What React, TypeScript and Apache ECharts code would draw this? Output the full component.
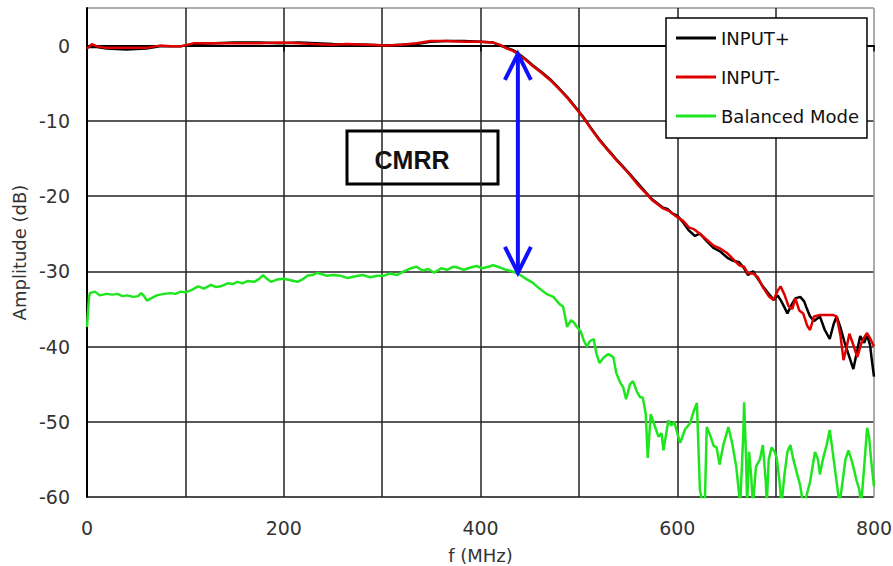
import React, { useEffect, useRef } from "react";
import * as echarts from "echarts";

// ---- data (f in MHz, amplitude in dB) ----
const blackF = [0, 10, 20, 40, 60, 74, 95, 108, 130, 150, 175, 196, 215, 250, 285, 305, 335, 349, 365, 383, 400, 413, 420, 427, 433, 438, 445, 453, 462, 471, 480, 488, 496, 504, 512, 521, 530, 540, 550, 560, 568, 575, 585, 590, 595, 600, 606, 612, 618, 623, 630, 637, 644, 651, 657, 663, 668, 672, 677, 682, 687, 693, 698, 702, 705, 709, 712, 716, 720, 725, 729, 731, 735, 739, 745, 750, 755, 759, 762, 766, 770, 774, 779, 783, 786, 790, 793, 796, 798, 800];
const blackDb = [-0.2, -0.2, -0.4, -0.5, -0.4, -0.1, -0.1, 0.2, 0.3, 0.4, 0.4, 0.3, 0.4, 0.2, 0.1, 0.0, 0.2, 0.5, 0.6, 0.6, 0.5, 0.4, 0.0, -0.3, -0.6, -1.0, -1.7, -2.6, -3.5, -4.5, -5.7, -6.8, -8.1, -9.4, -10.9, -12.5, -13.9, -15.4, -16.8, -18.3, -19.5, -20.5, -21.5, -21.7, -22.3, -22.6, -23.5, -24.6, -25.3, -25.0, -26.0, -26.9, -27.4, -28.2, -28.6, -28.8, -29.6, -30.5, -30.0, -31.0, -32.0, -33.0, -33.8, -33.2, -33.8, -34.8, -35.6, -34.5, -33.6, -33.4, -34.0, -34.7, -36.0, -36.6, -36.0, -37.8, -39.0, -37.0, -36.0, -37.5, -39.4, -41.0, -43.0, -40.5, -38.6, -39.5, -38.5, -39.8, -42.0, -44.0];

const redF = [0, 5, 10, 20, 40, 60, 74, 85, 95, 108, 130, 150, 175, 196, 215, 230, 250, 264, 285, 305, 320, 335, 349, 365, 383, 400, 413, 420, 427, 433, 438, 445, 453, 462, 471, 480, 488, 496, 504, 512, 521, 530, 540, 550, 560, 568, 575, 585, 592, 596, 600, 606, 612, 617, 623, 630, 637, 644, 651, 657, 663, 668, 672, 677, 682, 687, 693, 698, 702, 705, 709, 713, 717, 720, 724, 728, 732, 735, 739, 745, 752, 758, 762, 766, 769, 772, 775, 779, 783, 787, 790, 793, 796, 800];
const redDb = [-0.4, 0.2, -0.1, -0.3, -0.3, -0.3, 0.0, -0.1, -0.1, 0.3, 0.3, 0.3, 0.3, 0.4, 0.3, 0.2, 0.1, 0.2, 0.1, 0.0, 0.1, 0.3, 0.6, 0.6, 0.5, 0.5, 0.4, 0.1, -0.4, -0.7, -1.1, -1.8, -2.7, -3.6, -4.6, -5.8, -6.9, -8.2, -9.5, -11.0, -12.6, -14.0, -15.5, -16.9, -18.5, -19.6, -20.6, -21.6, -22.0, -22.4, -22.8, -23.3, -24.2, -24.4, -25.0, -25.8, -26.6, -27.0, -27.6, -28.4, -29.2, -29.4, -30.3, -30.3, -30.8, -32.1, -33.3, -33.8, -32.6, -32.0, -33.1, -34.6, -35.0, -33.6, -35.2, -35.6, -37.2, -37.8, -36.0, -35.8, -35.8, -35.8, -36.0, -38.6, -41.8, -40.2, -38.3, -39.8, -41.4, -39.6, -38.8, -38.2, -38.9, -40.0];

const greenF = [0, 2, 3, 8, 13, 20, 26, 31, 36, 41, 47, 52, 55, 58, 61, 65, 71, 78, 85, 90, 95, 100, 106, 113, 119, 126, 131, 136, 143, 148, 153, 158, 163, 170, 175, 179, 183, 187, 193, 200, 207, 214, 220, 224, 229, 234, 239, 244, 250, 258, 265, 272, 280, 288, 295, 301, 308, 315, 322, 329, 335, 341, 347, 353, 360, 366, 372, 377, 383, 390, 396, 402, 408, 413, 420, 426, 432, 438, 445, 453, 460, 467, 474, 480, 484, 486, 488, 492, 495, 498, 502, 505, 508, 511, 515, 518, 521, 525, 530, 535, 538, 542, 545, 548, 552, 555, 559, 562, 565, 568, 570, 573, 577, 581, 584, 586, 591, 594, 597, 600, 603, 608, 613, 617, 620, 623, 626, 628, 630, 634, 637, 640, 643, 647, 652, 656, 660, 664, 667, 668, 670, 671, 673, 675, 677, 680, 684, 687, 690, 691, 693, 696, 699, 701, 704, 706, 709, 712, 715, 718, 722, 725, 728, 731, 735, 740, 743, 745, 748, 752, 755, 757, 759, 762, 765, 768, 771, 774, 777, 780, 782, 785, 787, 790, 793, 795, 797, 800];
const greenDb = [-37.4, -33.5, -32.9, -32.7, -33.2, -33.0, -33.1, -33.0, -33.3, -33.2, -33.4, -33.3, -32.9, -33.3, -33.9, -33.6, -33.2, -33.0, -32.9, -33.0, -32.7, -32.8, -32.5, -32.0, -32.3, -31.8, -32.1, -32.0, -31.6, -31.7, -31.4, -31.6, -31.3, -31.4, -31.0, -30.5, -31.0, -31.4, -31.1, -31.0, -31.2, -31.4, -31.0, -30.6, -30.5, -30.2, -30.4, -30.6, -30.5, -30.6, -30.9, -30.7, -30.5, -30.8, -30.6, -30.6, -30.3, -30.5, -30.0, -29.6, -29.4, -29.9, -29.7, -30.2, -29.6, -29.8, -29.4, -29.5, -29.8, -29.5, -29.3, -29.6, -29.4, -29.2, -29.5, -29.8, -30.0, -30.3, -30.9, -31.5, -32.3, -33.0, -33.4, -34.3, -34.7, -36.0, -37.4, -36.5, -36.8, -37.4, -38.0, -39.2, -40.0, -39.3, -39.0, -41.0, -42.2, -41.5, -41.0, -41.4, -43.5, -44.8, -45.4, -47.0, -45.0, -44.6, -46.0, -46.7, -46.8, -49.0, -54.8, -49.0, -50.5, -52.0, -51.5, -53.8, -49.8, -50.5, -50.0, -51.5, -52.8, -51.0, -50.2, -48.5, -47.5, -59.0, -61.0, -61.0, -50.7, -52.0, -53.2, -53.4, -55.7, -53.0, -50.7, -53.0, -56.0, -61.0, -52.0, -47.4, -55.0, -61.0, -54.0, -57.0, -61.0, -56.0, -55.0, -53.1, -58.0, -61.0, -55.0, -53.4, -54.0, -54.7, -58.0, -61.0, -57.0, -54.0, -53.1, -55.0, -57.0, -58.5, -61.0, -60.0, -58.0, -54.0, -55.0, -57.0, -55.0, -53.0, -51.1, -53.0, -55.0, -58.0, -61.0, -58.0, -55.0, -53.8, -55.0, -56.5, -57.7, -59.0, -61.0, -56.0, -50.8, -52.0, -55.0, -58.6];

const seriesNames = ["INPUT+", "INPUT-", "Balanced Mode"];
const xTicks = [0, 200, 400, 600, 800];
const yTicks = [-60, -50, -40, -30, -20, -10, 0];

// CMRR arrow (f, top dB, bottom dB)
const arrowF = 438;
const arrowTopDb = -1.1;
const arrowBottomDb = -30.2;
const annotationText = "CMRR";

const zip = (xs: number[], ys: number[]) => xs.map((x, i) => [x, ys[i]]);

export default function App() {
  const ref = useRef<HTMLDivElement>(null);
  useEffect(() => {
    if (!ref.current) return;
    const chart = echarts.init(ref.current, null, { renderer: "svg" });
    const font = "DejaVu Sans";
    const gridColor = "#222";
    const option: any = {
      animation: false,
      backgroundColor: "#fff",
      textStyle: { fontFamily: font },
      grid: {
        left: 87, right: 19, top: 8, bottom: 69,
        containLabel: false,
        outerBoundsMode: "none",
        show: true, borderColor: "#a0a0a0", borderWidth: 1,
      },
      legend: {
        data: seriesNames,
        orient: "vertical",
        left: 666, top: 18,
        padding: [9, 8, 11, 10],
        itemGap: 17,
        itemWidth: 40, itemHeight: 3,
        icon: "rect",
        backgroundColor: "#fff",
        borderColor: "#000", borderWidth: 1.5,
        textStyle: { fontSize: 18, color: "#111", lineHeight: 22, fontFamily: font },
      },
      xAxis: [
        {
          type: "value", min: xTicks[0], max: xTicks[xTicks.length - 1], interval: 200,
          name: "f (MHz)", nameLocation: "middle", nameGap: 49,
          nameTextStyle: { fontSize: 18, color: "#333", fontFamily: font },
          axisLine: { lineStyle: { color: "#000", width: 2 } },
          axisTick: { show: true, length: 6, lineStyle: { color: "#000", width: 1.5 } },
          axisLabel: { fontSize: 19, color: "#333", margin: 21, fontFamily: font },
          splitLine: { show: false },
        },
        {
          type: "value", min: 0, max: 800, interval: 100, position: "bottom",
          axisLine: { show: false }, axisTick: { show: false }, axisLabel: { show: false },
          splitLine: {
            show: true,
            lineStyle: { width: 1.5, color: [gridColor, gridColor, gridColor, gridColor, gridColor, gridColor, gridColor, gridColor, "#a0a0a0"] },
          },
        },
      ],
      yAxis: {
        type: "value", min: yTicks[0], max: 5, interval: 10,
        name: "Amplitude (dB)", nameLocation: "middle", nameGap: 58,
        nameTextStyle: { fontSize: 18, color: "#333", fontFamily: font },
        axisLine: { show: true, lineStyle: { color: "#000", width: 2 } },
        axisTick: { show: false },
        axisLabel: {
          fontSize: 19, color: "#333", margin: 17, fontFamily: font,
          formatter: (v: number) => (v > 0 ? "" : String(v)),
        },
        splitLine: {
          show: true,
          lineStyle: { width: 1.5, color: [gridColor, gridColor, gridColor, gridColor, gridColor, gridColor, gridColor, "#a0a0a0"] },
        },
      },
      series: [
        {
          name: seriesNames[0], type: "line", data: zip(blackF, blackDb),
          symbol: "none", color: "#000", lineStyle: { width: 2.5, color: "#000" }, z: 3,
        },
        {
          name: seriesNames[1], type: "line", data: zip(redF, redDb),
          symbol: "none", color: "#e00000", lineStyle: { width: 2.5, color: "#e00000" }, z: 4,
        },
        {
          name: seriesNames[2], type: "line", data: zip(greenF, greenDb),
          symbol: "none", color: "#1ee61e", lineStyle: { width: 2.5, color: "#1ee61e" }, z: 4,
        },
        {
          type: "custom", silent: true, z: 10, clip: false,
          data: [[arrowF, arrowTopDb, arrowBottomDb]],
          encode: { x: 0, y: [1, 2] },
          renderItem: (params: any, api: any) => {
            const top = api.coord([api.value(0), api.value(1)]);
            const bot = api.coord([api.value(0), api.value(2)]);
            const st = { stroke: "#1010ff", lineWidth: 4, fill: null, lineJoin: "miter" };
            return {
              type: "group",
              children: [
                { type: "line", shape: { x1: top[0], y1: top[1] + 2, x2: bot[0], y2: bot[1] - 2 }, style: st },
                { type: "polyline", shape: { points: [[top[0] - 13, top[1] + 26], [top[0], top[1]], [top[0] + 13, top[1] + 26]] }, style: st },
                { type: "polyline", shape: { points: [[bot[0] - 13, bot[1] - 26], [bot[0], bot[1]], [bot[0] + 13, bot[1] - 26]] }, style: st },
              ],
            };
          },
        },
      ],
      graphic: [
        {
          type: "group", z: 100,
          children: [
            { type: "rect", shape: { x: 347, y: 131, width: 151, height: 53 }, style: { fill: "#fff", stroke: "#000", lineWidth: 3 } },
            {
              type: "text", x: 412, y: 160,
              style: { text: annotationText, font: 'bold 25px "Liberation Sans", Arial, sans-serif', textAlign: "center", textVerticalAlign: "middle", fill: "#111" },
            },
          ],
        },
      ],
    };
    chart.setOption(option);
    return () => chart.dispose();
  }, []);
  return (
    <div
      ref={ref}
      style={{ width: 893, height: 566, position: "fixed", left: 0, top: 0, background: "#fff" }}
    />
  );
}
